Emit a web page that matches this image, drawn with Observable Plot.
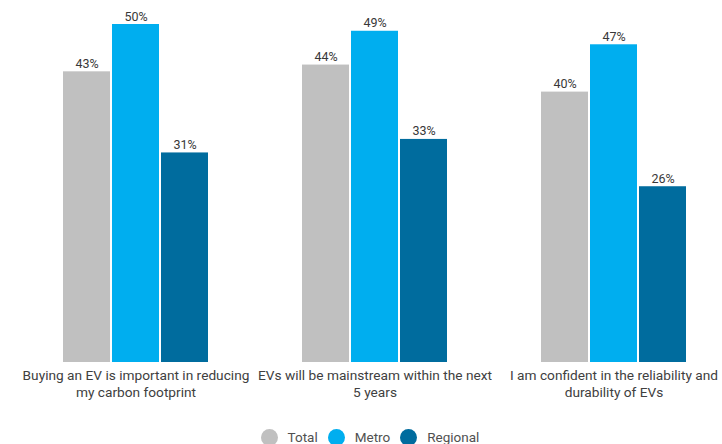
<!DOCTYPE html>
<html>
<head>
<meta charset="utf-8">
<script src="https://cdn.jsdelivr.net/npm/d3@7"></script>
<script src="https://cdn.jsdelivr.net/npm/@observablehq/plot@0.6"></script>
<style>
  html, body { margin: 0; padding: 0; background: #ffffff; }
  #chart svg { display: block; }
  .legend { display: flex; justify-content: center; align-items: center; height: 26px; font-family: Roboto, sans-serif; font-size: 13.5px; color: #505050; padding-left: 18px; }
  .legend .item { display: flex; align-items: center; margin: 0 5px; }
  .legend .dot { width: 17px; height: 17px; border-radius: 50%; margin-right: 10px; }
</style>
</head>
<body>
<div id="chart"></div>
<script>
const categories = [
  "Buying an EV is important in reducing\nmy carbon footprint",
  "EVs will be mainstream within the next\n5 years",
  "I am confident in the reliability and\ndurability of EVs"
];
const series = ["Total", "Metro", "Regional"];
const totalValues = [43, 44, 40];
const metroValues = [50, 49, 47];
const regionalValues = [31, 33, 26];
const colors = ["#c0c0c0", "#00aeef", "#006c9e"];

const valuesBySeries = [totalValues, metroValues, regionalValues];
const data = [];
categories.forEach((c, i) => {
  series.forEach((s, j) => {
    data.push({category: c, series: s, value: valuesBySeries[j][i]});
  });
});

const plot = Plot.plot({
  width: 722,
  height: 424,
  marginLeft: 62,
  marginRight: 35,
  marginTop: 24,
  marginBottom: 62,
  style: {fontFamily: "Roboto, sans-serif", background: "#ffffff"},
  fx: {domain: categories, paddingInner: 0.385, paddingOuter: 0, label: null},
  x: {domain: series, paddingInner: 0.04, paddingOuter: 0, axis: null},
  y: {domain: [0, 50], axis: null},
  color: {domain: series, range: colors},
  marks: [
    Plot.barY(data, {fx: "category", x: "series", y: "value", fill: "series"}),
    Plot.text(data, {fx: "category", x: "series", y: "value", text: d => d.value + "%", dy: -8, fill: "#383838", fontSize: 12.5, fontWeight: 400}),
    Plot.axisFx({anchor: "bottom", tickSize: 0, tickPadding: 6, label: null, fontSize: 13.7, fill: "#404040", lineHeight: 1.2})
  ]
});
document.getElementById("chart").appendChild(plot);

const legend = document.createElement("div");
legend.className = "legend";
series.forEach((s, j) => {
  const item = document.createElement("div");
  item.className = "item";
  const dot = document.createElement("span");
  dot.className = "dot";
  dot.style.background = colors[j];
  const label = document.createElement("span");
  label.textContent = s;
  item.appendChild(dot);
  item.appendChild(label);
  legend.appendChild(item);
});
document.getElementById("chart").appendChild(legend);
</script>
</body>
</html>
